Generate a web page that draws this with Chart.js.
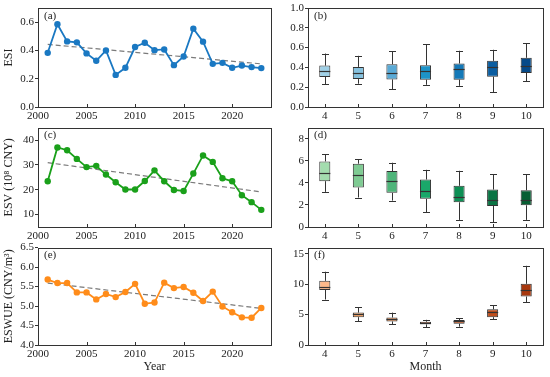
<!DOCTYPE html>
<html>
<head>
<meta charset="utf-8">
<script src="https://cdn.jsdelivr.net/npm/chart.js@4/dist/chart.umd.min.js"></script>
<style>
  body { margin: 0; background: #fff; }
  canvas { position: absolute; }
</style>
</head>
<body>
<canvas id="pa" width="275" height="120" style="left:0;top:0"></canvas>
<canvas id="pb" width="275" height="120" style="left:275px;top:0"></canvas>
<canvas id="pc" width="275" height="120" style="left:0;top:120px"></canvas>
<canvas id="pd" width="275" height="120" style="left:275px;top:120px"></canvas>
<canvas id="pe" width="275" height="137" style="left:0;top:240px"></canvas>
<canvas id="pf" width="275" height="137" style="left:275px;top:240px"></canvas>
<script>
// years and yearly series (left column)
const years = [2001, 2002, 2003, 2004, 2005, 2006, 2007, 2008, 2009, 2010, 2011, 2012,
               2013, 2014, 2015, 2016, 2017, 2018, 2019, 2020, 2021, 2022, 2023];
const esi = [0.383, 0.585, 0.464, 0.457, 0.379, 0.327, 0.400, 0.227, 0.277, 0.424, 0.454, 0.402,
             0.407, 0.296, 0.357, 0.554, 0.462, 0.305, 0.312, 0.277, 0.293, 0.282, 0.275];
const esv = [23.4, 37.0, 35.9, 32.4, 29.1, 29.6, 26.1, 23.0, 20.1, 20.1, 23.5, 27.8,
             23.4, 19.9, 19.5, 26.5, 33.8, 31.2, 24.6, 23.4, 17.8, 15.0, 11.9];
const eswue = [5.68, 5.59, 5.59, 5.35, 5.35, 5.17, 5.31, 5.23, 5.36, 5.57, 5.06, 5.09,
               5.60, 5.46, 5.49, 5.34, 5.13, 5.37, 4.99, 4.84, 4.71, 4.70, 4.95];

// linear trend end points
const trendYears = [2001, 2023];
const esiTrend = [0.443, 0.305];
const esvTrend = [30.9, 19.1];
const eswueTrend = [5.59, 4.94];

// monthly box plots (right column)
const months = ['4', '5', '6', '7', '8', '9', '10'];
const esiMin = [0.231, 0.235, 0.177, 0.224, 0.214, 0.150, 0.262];
const esiQ1  = [0.303, 0.282, 0.279, 0.276, 0.276, 0.306, 0.344];
const esiMed = [0.364, 0.340, 0.347, 0.364, 0.384, 0.401, 0.418];
const esiQ3  = [0.418, 0.405, 0.432, 0.422, 0.439, 0.466, 0.497];
const esiMax = [0.540, 0.517, 0.561, 0.633, 0.568, 0.578, 0.643];

const esvMin = [3.18, 2.67, 2.39, 1.33, 0.64, 0.45, 0.64];
const esvQ1  = [4.15, 3.58, 3.09, 2.55, 2.24, 1.91, 1.97];
const esvMed = [4.85, 4.67, 4.12, 3.27, 2.76, 2.45, 2.42];
const esvQ3  = [5.94, 5.73, 5.06, 4.30, 3.73, 3.39, 3.33];
const esvMax = [6.58, 6.12, 5.82, 5.18, 5.09, 4.76, 4.76];

const wueMin = [7.47, 3.92, 3.44, 2.96, 3.01, 4.19, 6.99];
const wueQ1  = [9.03, 4.57, 3.87, 3.39, 3.49, 4.57, 7.96];
const wueMed = [9.57, 5.05, 4.19, 3.60, 3.92, 5.38, 9.09];
const wueQ3  = [10.54, 5.32, 4.52, 3.82, 4.09, 5.86, 10.05];
const wueMax = [12.04, 6.24, 5.32, 4.14, 4.41, 6.51, 13.01];

// tick labels
const yearTicks = [2000, 2005, 2010, 2015, 2020];
const esiTicks = [0.0, 0.2, 0.4, 0.6];
const esvTicks = [10, 20, 30, 40];
const eswueTicks = [4.0, 4.5, 5.0, 5.5, 6.0, 6.5];
const esiBoxTicks = [0.0, 0.2, 0.4, 0.6, 0.8, 1.0];
const esvBoxTicks = [0, 2, 4, 6, 8];
const wueBoxTicks = [0, 5, 10, 15];

const blues = ['#a0d0e6', '#86c2df', '#5aaad6', '#1d93c8', '#1479b8', '#0b5ea1', '#064a89'];
const greens = ['#a3dcae', '#7fcb93', '#4fb57a', '#1aa86a', '#0d8f55', '#0a7444', '#075e33'];
const oranges = ['#fdb98a', '#f9a463', '#ef8a47', '#d9672c', '#c95a23', '#bf4e1c', '#a8380e'];

const FONT = "'Liberation Serif', 'DejaVu Serif', serif";
const INK = '#333';

// frame, panel tag and inward x ticks
const framePlugin = {
  id: 'frame',
  afterDraw(chart, args, opts) {
    const { ctx, chartArea: a, scales } = chart;
    ctx.save();
    ctx.strokeStyle = INK;
    ctx.lineWidth = 1;
    ctx.strokeRect(Math.round(a.left) + 0.5, Math.round(a.top) + 0.5,
                   Math.round(a.right - a.left), Math.round(a.bottom - a.top));
    const x = scales.x;
    ctx.beginPath();
    x.ticks.forEach((t, i) => {
      const px = Math.round(x.getPixelForTick(i)) + 0.5;
      ctx.moveTo(px, a.bottom);
      ctx.lineTo(px, a.bottom - 3);
    });
    ctx.stroke();
    ctx.fillStyle = '#222';
    ctx.font = '11px ' + FONT;
    ctx.textBaseline = 'middle';
    ctx.fillText(opts.tag, a.left + 6, a.top + 8);
    ctx.restore();
  }
};

// whiskers and medians drawn over floating bars
const boxPlugin = {
  id: 'boxes',
  afterDatasetsDraw(chart, args, opts) {
    if (!opts.min) return;
    const { ctx } = chart;
    const y = chart.scales.y;
    const meta = chart.getDatasetMeta(0);
    ctx.save();
    ctx.strokeStyle = INK;
    ctx.lineWidth = 1;
    meta.data.forEach((bar, i) => {
      const cx = Math.round(bar.x) + 0.5;
      const hw = bar.width / 2;
      const yMin = y.getPixelForValue(opts.min[i]);
      const yMax = y.getPixelForValue(opts.max[i]);
      const yQ1 = y.getPixelForValue(opts.q1[i]);
      const yQ3 = y.getPixelForValue(opts.q3[i]);
      const yMed = Math.round(y.getPixelForValue(opts.med[i])) + 0.5;
      ctx.beginPath();
      ctx.moveTo(cx, yQ3); ctx.lineTo(cx, yMax);
      ctx.moveTo(cx, yQ1); ctx.lineTo(cx, yMin);
      ctx.moveTo(cx - 3.5, Math.round(yMax) + 0.5); ctx.lineTo(cx + 3.5, Math.round(yMax) + 0.5);
      ctx.moveTo(cx - 3.5, Math.round(yMin) + 0.5); ctx.lineTo(cx + 3.5, Math.round(yMin) + 0.5);
      ctx.stroke();
      ctx.beginPath();
      ctx.lineWidth = 1.2;
      ctx.moveTo(bar.x - hw, yMed); ctx.lineTo(bar.x + hw, yMed);
      ctx.stroke();
      ctx.lineWidth = 1;
    });
    ctx.restore();
  }
};

function fixedTicks(list) {
  return scale => { scale.ticks = list.map(v => ({ value: v })); };
}

function yScale(min, max, ticks, digits, title, width) {
  return {
    min: min, max: max,
    afterBuildTicks: fixedTicks(ticks),
    afterFit: s => { s.width = width; },
    grid: { display: true, drawOnChartArea: false, drawTicks: true, tickLength: 3, color: INK },
    border: { display: false },
    ticks: {
      padding: 1, color: '#222', font: { family: FONT, size: 11 },
      callback: v => v.toFixed(digits)
    },
    title: {
      display: !!title, text: title, color: '#222', padding: { top: 2, bottom: 0 },
      font: { family: FONT, size: 12 }
    }
  };
}

function xTitle(text) {
  return { display: !!text, text: text, color: '#222', padding: { top: 0, bottom: 3 },
           font: { family: FONT, size: 12 } };
}

function makeLine(id, values, trend, color, yMin, yMax, ticks, digits, title, tag, padTop, xHeight, xLabel) {
  new Chart(document.getElementById(id), {
    type: 'line',
    data: {
      datasets: [{
        data: years.map((yr, i) => ({ x: yr, y: values[i] })),
        borderColor: color, backgroundColor: color,
        borderWidth: 1.8, pointRadius: 3.2, pointBorderWidth: 0,
        tension: 0, order: 0
      }, {
        data: trendYears.map((yr, i) => ({ x: yr, y: trend[i] })),
        borderColor: '#7a7a7a', borderWidth: 1.2, borderDash: [5, 3],
        pointRadius: 0, order: 1
      }]
    },
    options: {
      responsive: false, animation: false,
      layout: { padding: { top: padTop, right: 2, left: 0, bottom: 0 } },
      plugins: { legend: { display: false }, tooltip: { enabled: false }, frame: { tag: tag } },
      scales: {
        x: {
          type: 'linear', min: 2000, max: 2024,
          afterBuildTicks: fixedTicks(yearTicks),
          afterFit: s => { s.height = xHeight; },
          grid: { display: false, drawTicks: false },
          border: { display: false },
          ticks: { padding: 3, color: '#222', font: { family: FONT, size: 11 }, callback: v => String(v) },
          title: xTitle(xLabel)
        },
        y: yScale(yMin, yMax, ticks, digits, title, 38)
      }
    },
    plugins: [framePlugin]
  });
}

function makeBox(id, mn, q1, med, q3, mx, colors, yMax, ticks, digits, tag, padTop, xHeight, xLabel) {
  new Chart(document.getElementById(id), {
    type: 'bar',
    data: {
      labels: months,
      datasets: [{
        data: months.map((m, i) => [q1[i], q3[i]]),
        backgroundColor: colors, borderColor: INK, borderWidth: 1,
        borderSkipped: false, barPercentage: 0.33, categoryPercentage: 1
      }]
    },
    options: {
      responsive: false, animation: false,
      layout: { padding: { top: padTop, right: 7, left: 0, bottom: 0 } },
      plugins: {
        legend: { display: false }, tooltip: { enabled: false },
        frame: { tag: tag },
        boxes: { min: mn, q1: q1, med: med, q3: q3, max: mx }
      },
      scales: {
        x: {
          afterFit: s => { s.height = xHeight; },
          grid: { display: false, drawTicks: false },
          border: { display: false },
          ticks: { padding: 3, color: '#222', font: { family: FONT, size: 11 } },
          title: xTitle(xLabel)
        },
        y: yScale(0, yMax, ticks, digits, '', 33)
      }
    },
    plugins: [framePlugin, boxPlugin]
  });
}

makeLine('pa', esi, esiTrend, '#1a78c2', 0, 0.7, esiTicks, 1, 'ESI', '(a)', 8, 13, '');
makeLine('pc', esv, esvTrend, '#1aa01a', 5, 45, esvTicks, 0, 'ESV (10\u2078 CNY)', '(c)', 7, 13, '');
makeLine('pe', eswue, eswueTrend, '#ff8c1a', 4, 6.5, eswueTicks, 1, 'ESWUE (CNY/m\u00b3)', '(e)', 7, 32, 'Year');

makeBox('pb', esiMin, esiQ1, esiMed, esiQ3, esiMax, blues, 1.0, esiBoxTicks, 1, '(b)', 8, 13, '');
makeBox('pd', esvMin, esvQ1, esvMed, esvQ3, esvMax, greens, 9, esvBoxTicks, 0, '(d)', 7, 13, '');
makeBox('pf', wueMin, wueQ1, wueMed, wueQ3, wueMax, oranges, 16, wueBoxTicks, 0, '(f)', 6, 32, 'Month');
</script>
</body>
</html>
